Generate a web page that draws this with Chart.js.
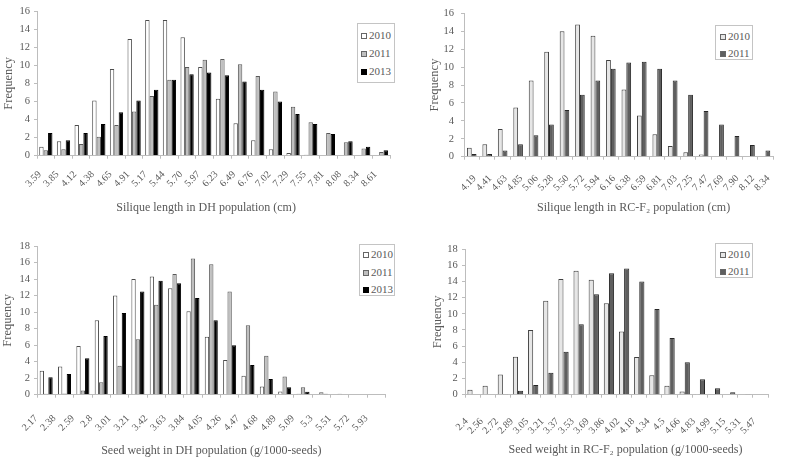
<!DOCTYPE html>
<html><head><meta charset="utf-8">
<script src="https://cdn.jsdelivr.net/npm/chart.js@4/dist/chart.umd.min.js"></script>
<style>
html,body{margin:0;padding:0;background:#fff;}
body{width:787px;height:461px;position:relative;overflow:hidden;font-family:"Liberation Serif",serif;}
.pane{position:absolute;}
.pane canvas{display:block;}
.lg{position:absolute;box-sizing:border-box;border:1px solid #c4c4c4;background:#fff;color:#595959;font:11px "Liberation Serif",serif;white-space:nowrap;}
.lg .row{display:block;}
.lg .sw{display:inline-block;box-sizing:border-box;width:6px;height:6px;border:1px solid #555;margin-right:2px;vertical-align:0px;}
</style></head>
<body>
<div class="pane" style="left:0;top:0"><canvas id="c1" width="400" height="220"></canvas></div>
<div class="pane" style="left:400px;top:0"><canvas id="c2" width="387" height="220"></canvas></div>
<div class="pane" style="left:0;top:225px"><canvas id="c3" width="400" height="236"></canvas></div>
<div class="pane" style="left:400px;top:225px"><canvas id="c4" width="387" height="236"></canvas></div>
<script>
// ---------- data ----------
const yearsDH = ['2010', '2011', '2013'];
const yearsRC = ['2010', '2011'];

const dhSiliqueBins = ['3.59','3.85','4.12','4.38','4.65','4.91','5.17','5.44','5.70','5.97','6.23','6.49','6.76','7.02','7.29','7.55','7.81','8.08','8.34','8.61'];
const dhSilique2010 = [1.0,1.6,3.4,6.1,9.6,12.9,15.0,15.0,13.1,9.8,6.3,3.6,1.7,0.7,0.3,0.1,0,0,0,0];
const dhSilique2011 = [0.6,0.7,1.3,2.1,3.4,4.9,6.6,8.4,9.8,10.6,10.7,10.1,8.8,7.1,5.4,3.7,2.5,1.5,0.8,0.4];
const dhSilique2013 = [2.5,1.7,2.5,3.5,4.8,6.1,7.3,8.4,9.0,9.2,8.9,8.2,7.3,6.0,4.6,3.5,2.4,1.6,1.0,0.6];

const rcSiliqueBins = ['4.19','4.41','4.63','4.85','5.06','5.28','5.50','5.72','5.94','6.16','6.38','6.59','6.81','7.03','7.25','7.47','7.69','7.90','8.12','8.34'];
const rcSilique2010 = [1.0,1.4,3.1,5.5,8.5,11.7,14.0,14.75,13.5,10.8,7.5,4.6,2.5,1.2,0.5,0.25,0.05,0.05,0,0];
const rcSilique2011 = [0.3,0.3,0.7,1.4,2.4,3.6,5.2,6.9,8.5,9.8,10.5,10.6,9.8,8.5,6.9,5.1,3.6,2.3,1.3,0.7];

const dhSeedBins = ['2.17','2.38','2.59','2.8','3.01','3.21','3.42','3.63','3.84','4.05','4.26','4.47','4.68','4.89','5.09','5.3','5.51','5.72','5.93'];
const dhSeed2010 = [2.9,3.4,5.9,9.0,12.0,14.0,14.3,12.9,10.1,7.0,4.2,2.3,1.0,0.4,0.1,0,0,0,0];
const dhSeed2011 = [0.1,0.15,0.5,1.5,3.5,6.7,10.9,14.6,16.5,15.8,12.5,8.4,4.7,2.2,0.9,0.3,0.1,0,0];
const dhSeed2013 = [2.1,2.5,4.4,7.1,9.9,12.5,13.8,13.5,11.7,9.0,6.0,3.6,1.9,0.9,0.35,0.1,0.05,0,0];

const rcSeedBins = ['2.4','2.56','2.72','2.89','3.05','3.21','3.37','3.53','3.69','3.86','4.02','4.18','4.34','4.5','4.66','4.83','4.99','5.15','5.31','5.47'];
const rcSeed2010 = [0.6,1.1,2.5,4.7,8.0,11.6,14.3,15.3,14.2,11.3,7.8,4.65,2.4,1.1,0.4,0.1,0,0,0,0];
const rcSeed2011 = [0,0,0.1,0.5,1.2,2.7,5.3,8.7,12.4,15.0,15.6,14.0,10.6,7.0,4.0,1.9,0.8,0.3,0.1,0.05];

const siliqueMax = 16, seedMax = 18, yStep = 2;
const yTitle = 'Frequency';
const xTitles = ['Silique length in DH population (cm)', 'Silique length in RC-F\u2082 population (cm)',
                 'Seed weight in DH population (g/1000-seeds)', 'Seed weight in RC-F\u2082 population (g/1000-seeds)'];

// ---------- styles ----------
const FONT = 'Liberation Serif';
const TXT = '#595959';
const AX = '#bdbdbd';
const dhFill = ['#ffffff', '#bfbfbf', '#000000'];
const dhLine = ['#4d4d4d', '#595959', '#000000'];
const rcFill = ['#e6e6e6', '#5f5f5f'];
const rcLine = ['#404040', '#262626'];

// shift a centred axis title sideways by padding it with spaces (each ~3px at 12px)
function shifted(text, px) {
  const n = Math.round(Math.abs(px) / 1.5);
  const pad = ' '.repeat(n);
  return px >= 0 ? pad + text : text + pad;
}

function makePanel(id, bins, names, series, fills, lines, g) {
  return new Chart(document.getElementById(id), {
    type: 'bar',
    data: {
      labels: bins,
      datasets: series.map((vals, i) => ({
        label: names[i], data: vals,
        backgroundColor: fills[i], borderColor: lines[i], borderWidth: 1,
        categoryPercentage: g.cat, barPercentage: 1.0
      }))
    },
    options: {
      responsive: false, animation: false, devicePixelRatio: 1,
      layout: { padding: { left: g.padL, right: g.padR, top: g.padT, bottom: g.padB } },
      plugins: { legend: { display: false }, tooltip: { enabled: false } },
      scales: {
        x: {
          grid: { display: true, drawOnChartArea: false, drawTicks: true, tickLength: 3, color: AX },
          border: { display: true, color: AX, width: 1 },
          ticks: { autoSkip: false, minRotation: 45, maxRotation: 45, color: TXT,
                   font: { family: FONT, size: 10 }, padding: g.xPad, labelOffset: g.xOff },
          title: { display: true, text: shifted(g.xTitle, g.titleShift), color: TXT, font: { family: FONT, size: 12 }, padding: 0 },
          afterFit: s => { s.height = g.xH; }
        },
        y: {
          min: 0, max: g.yMax,
          grid: { display: true, drawOnChartArea: false, drawTicks: true, tickLength: 3, color: AX },
          border: { display: true, color: AX, width: 1 },
          ticks: { stepSize: yStep, color: TXT, font: { family: FONT, size: 10.5 }, padding: g.yPad },
          title: { display: true, text: yTitle, color: TXT, font: { family: FONT, size: 12.5 }, padding: { top: g.yTitlePad, bottom: 0 } },
          afterFit: s => { s.width = g.yW; }
        }
      }
    }
  });
}

function makeLegend(names, fills, lines, box) {
  const d = document.createElement('div');
  d.className = 'lg';
  d.style.left = box.x + 'px'; d.style.top = box.y + 'px';
  d.style.width = box.w + 'px'; d.style.height = box.h + 'px';
  d.style.paddingLeft = box.pl + 'px'; d.style.paddingTop = box.pt + 'px';
  d.style.lineHeight = box.lh + 'px';
  names.forEach((n, i) => {
    const r = document.createElement('span'); r.className = 'row';
    const sw = document.createElement('span'); sw.className = 'sw';
    sw.style.background = fills[i]; sw.style.borderColor = lines[i] === '#000000' ? '#000' : '#666';
    r.appendChild(sw); r.appendChild(document.createTextNode(n));
    d.appendChild(r);
  });
  document.body.appendChild(d);
}

makePanel('c1', dhSiliqueBins, yearsDH, [dhSilique2010, dhSilique2011, dhSilique2013], dhFill, dhLine,
  { cat: 0.75, padL: 0, padR: 6.6, padT: 11, padB: 4.8, yW: 37, xH: 59.5, yMax: siliqueMax,
    yPad: 4, yTitlePad: 1.5, xPad: 10, xOff: -6, xTitle: xTitles[0], titleShift: -7 });
makePanel('c2', rcSiliqueBins, yearsRC, [rcSilique2010, rcSilique2011], rcFill, rcLine,
  { cat: 0.62, padL: 0, padR: 2, padT: 5.3, padB: 4.8, yW: 64, xH: 58.5, yMax: siliqueMax,
    yPad: 7, yTitlePad: 27.5, xPad: 13, xOff: 3, xTitle: xTitles[1], titleShift: 15 });
makePanel('c3', dhSeedBins, yearsDH, [dhSeed2010, dhSeed2011, dhSeed2013], dhFill, dhLine,
  { cat: 0.71, padL: 0, padR: 5, padT: 21, padB: 3.1, yW: 37, xH: 63.2, yMax: seedMax,
    yPad: 4, yTitlePad: 0, xPad: 15, xOff: -10, xTitle: xTitles[2], titleShift: 0 });
makePanel('c4', rcSeedBins, yearsRC, [rcSeed2010, rcSeed2011], rcFill, rcLine,
  { cat: 0.68, padL: 0, padR: 2, padT: 24, padB: 3.8, yW: 65, xH: 62.5, yMax: seedMax,
    yPad: 4.3, yTitlePad: 30.5, xPad: 18, xOff: -6, xTitle: xTitles[3], titleShift: 9 });

makeLegend(yearsDH, dhFill, dhLine, { x: 357, y: 23, w: 38, h: 60, pl: 3, pt: 2, lh: 18 });
makeLegend(yearsRC, rcFill, rcLine, { x: 715, y: 25, w: 38, h: 35, pl: 4, pt: 1.5, lh: 17 });
makeLegend(yearsDH, dhFill, dhLine, { x: 359, y: 244, w: 36, h: 52, pl: 3, pt: 1.4, lh: 17.2 });
makeLegend(yearsRC, rcFill, rcLine, { x: 715, y: 243, w: 38, h: 35, pl: 4, pt: 1.6, lh: 17.4 });
</script>
</body></html>
